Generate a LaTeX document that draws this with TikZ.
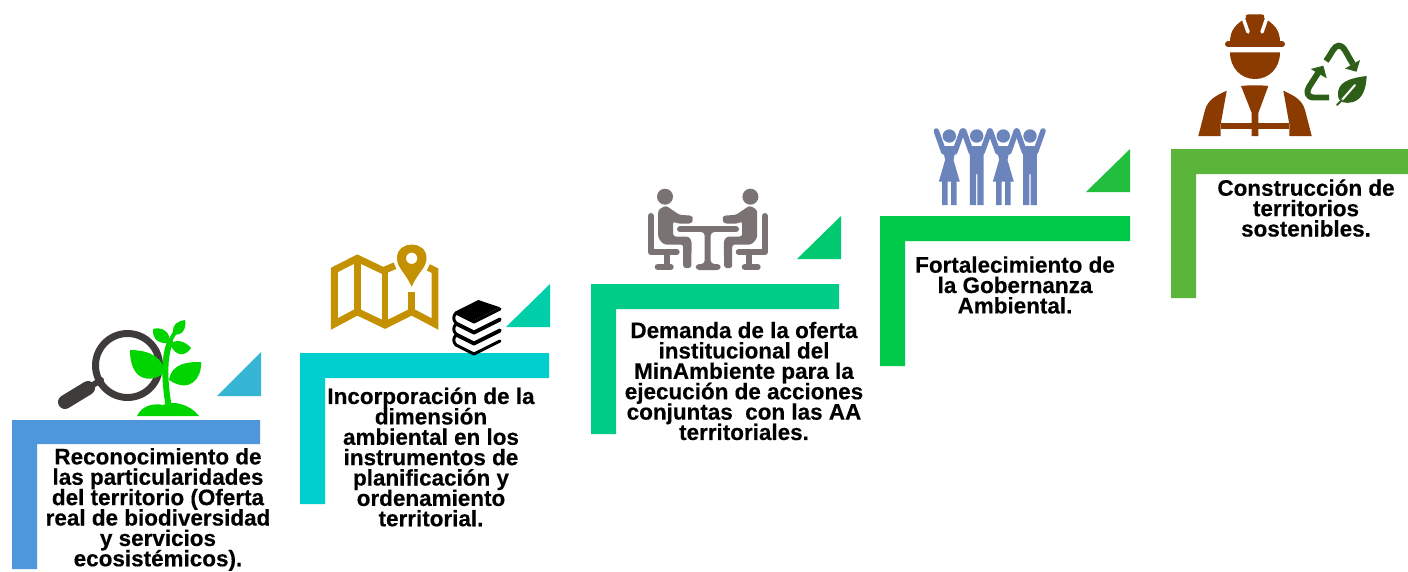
\documentclass[tikz,border=0pt]{standalone}
\usepackage{fontspec}
\setmainfont[BoldFeatures={FakeBold=0.35}]{Liberation Sans}
\lineskiplimit=-5pt
\definecolor{barA}{HTML}{4F97DB}
\definecolor{barB}{HTML}{00CFCF}
\definecolor{barC}{HTML}{00CC88}
\definecolor{barD}{HTML}{00C94A}
\definecolor{barE}{HTML}{5BB53A}
\definecolor{triA}{HTML}{35B4D4}
\definecolor{triB}{HTML}{00CFAA}
\definecolor{triC}{HTML}{00C972}
\definecolor{triD}{HTML}{22BF3E}
\definecolor{lensgray}{HTML}{3F3B3B}
\definecolor{plantgreen}{HTML}{00D500}
\definecolor{mapgold}{HTML}{C49102}
\definecolor{seatgray}{HTML}{7B7373}
\definecolor{crowdblue}{HTML}{6C84BC}
\definecolor{hatbrown}{HTML}{8B3A00}
\definecolor{leafgreen}{HTML}{2D5F18}
\tikzset{
steptext/.style={align=center,inner sep=0pt,font=\bfseries\fontsize{12.78}{11.6}\selectfont},
px/.style={line width=#1*0.567pt},
}
\begin{document}
\begin{tikzpicture}[x=0.02cm,y=-0.02cm,line cap=round,line join=round]
\useasboundingbox[fill=white] (0,0) rectangle (1408,571);
\fill[barA] (12,420)--(260,420)--(260,444)--(37,444)--(37,569)--(12,569)--cycle;
\fill[barB] (300,353)--(549,353)--(549,378)--(325,378)--(325,504)--(300,504)--cycle;
\fill[barC] (591,284)--(839,284)--(839,309)--(616,309)--(616,434)--(591,434)--cycle;
\fill[barD] (880,216)--(1130,216)--(1130,241)--(905,241)--(905,366)--(880,366)--cycle;
\fill[barE] (1171,149)--(1408,149)--(1408,174)--(1196,174)--(1196,298)--(1171,298)--cycle;
\fill[triA] (217,396)--(261,396)--(261,352)--cycle;
\fill[triB] (506,327)--(550,327)--(550,284)--cycle;
\fill[triC] (797,259)--(841,259)--(841,216)--cycle;
\fill[triD] (1086,192)--(1130,192)--(1130,149)--cycle;
\node[steptext] (reconocimiento) at (158,509.5) {Reconocimiento de\\las particularidades\\del territorio (Oferta\\real de biodiversidad\\y servicios\\ecosistémicos).};
\node[steptext] (incorporacion) at (431,457) {Incorporación de la\\dimensión\\ambiental en los\\instrumentos de\\planificación y\\ordenamiento\\territorial.};
\node[steptext] (demanda) at (744,381) {Demanda de la oferta\\institucional del\\MinAmbiente para la\\ejecución de acciones\\conjuntas\ \ con las AA\\territoriales.};
\node[steptext] (fortalecimiento) at (1015,285) {Fortalecimiento de\\la Gobernanza\\Ambiental.};
\node[steptext] (construccion) at (1306,208) {Construcción de\\territorios\\sostenibles.};
\draw[lensgray,px=7] (127.5,365.5) circle [radius=32];
\draw[lensgray,px=14] (65,402)--(88,388);
\draw[lensgray,px=6] (88,388)--(101,380);
\fill[plantgreen] (137,416) .. controls (142,405) and (155,403) .. (163,405) .. controls (172,400) and (190,404) .. (199,416)--cycle;
\draw[plantgreen,px=6] (169,408) .. controls (165,385) and (163,360) .. (170,342);
\draw[plantgreen,px=4] (170,342) .. controls (172,336) and (175,333) .. (178,328);
\fill[plantgreen] (130,350) .. controls (150,350) and (163,358) .. (165,372) .. controls (155,382) and (130,385) .. (130,350)--cycle;
\fill[plantgreen] (201,362) .. controls (202,378) and (190,394) .. (169,380) .. controls (172,362) and (190,362) .. (201,362)--cycle;
\fill[plantgreen] (153,329) .. controls (162,326) and (172,333) .. (169,343) .. controls (160,344) and (152,340) .. (153,329)--cycle;
\fill[plantgreen] (185,320) .. controls (187,328) and (182,337) .. (173,334) .. controls (172,324) and (178,321) .. (185,320)--cycle;
\fill[plantgreen] (191,348) .. controls (186,356) and (176,358) .. (170,344) .. controls (177,338) and (186,342) .. (191,348)--cycle;
\draw[mapgold,px=7,line cap=butt,line join=miter] (395,265.7)--(383.3,270.7)--(357.3,258.3)--(334.3,270)--(334.3,324)--(357.3,311.7)--(385,325)--(411.7,311.7)--(435,324)--(435,270.7)--(428.3,267.3);
\draw[mapgold,px=7,line cap=butt] (357.3,258.3)--(357.3,311.7) (385,270.7)--(385,325) (411.7,291.7)--(411.7,311.7);
\fill[mapgold,even odd rule] (411.7,286.7) .. controls (405,272) and (397,268) .. (397,258) .. controls (397,240) and (426.5,240) .. (426.5,258) .. controls (426.5,268) and (418,272) .. (411.7,286.7)--cycle (411.7,258.3) circle [radius=5.7];
\foreach \booky in {0,11,22}{
\draw[black,px=3] (500,\booky+309)--(474,\booky+322)--(456,\booky+313) (456,\booky+313) .. controls (453,\booky+316) and (453,\booky+320) .. (456,\booky+323)--(474,\booky+332)--(500,\booky+319);
}
\fill[black] (455,311.7)--(478.3,300)--(500,307.3)--(473.3,320.7)--cycle;
\fill[seatgray,rounded corners=2pt] (702,227)--(714,227)--(714,232)--(710.7,232)--(710.7,264)--(720.7,264)--(720.7,270)--(695.7,270)--(695.7,264)--(704.7,264)--(704.7,232)--(702,232)--cycle;
\draw[seatgray,px=6] (680,229.3)--(736,229.3);
\foreach \flip in {1,-1}{
\begin{scope}[shift={(707.7,0)},xscale=\flip]
\fill[seatgray] (-42.7,196.7) circle [radius=8];
\fill[seatgray,rounded corners=1.5pt] (-49.5,210)--(-42,205.5)--(-28,215)--(-16,215.5)--(-14.5,219)--(-16,223.5)--(-31,223.5)--(-34.5,221)--(-34.5,236.5)--(-19,236.5)--(-16,241)--(-16.5,268)--(-24.5,268)--(-24.5,244.5)--(-44,244.5)--(-49.5,238)--cycle;
\draw[seatgray,px=6] (-57,216)--(-57,252)--(-31,252) (-41,252)--(-41,266);
\draw[seatgray,px=6] (-50,267)--(-37,267);
\end{scope}
}
\foreach \crowdx/\skirt in {949.3/1,976.7/0,1003.3/1,1030/0}{
\begin{scope}[shift={(\crowdx,0)}]
\fill[crowdblue] (0,136) circle [radius=6.7];
\draw[crowdblue,px=5.5] (-5.5,152)--(-13,131) (5.5,152)--(13,131);
\ifnum\skirt=1
\fill[crowdblue] (-7,146)--(7,146)--(4.2,160)--(10.5,181.7)--(-10.5,181.7)--(-4.2,160)--cycle;
\fill[crowdblue] (-7.2,181)--(-1.8,181)--(-1.8,205)--(-7.2,205)--cycle (1.8,181)--(7.2,181)--(7.2,205)--(1.8,205)--cycle;
\else
\fill[crowdblue] (-7,146)--(7,146)--(6.8,205)--(0.7,205)--(0.7,174)--(-0.7,174)--(-0.7,205)--(-6.8,205)--cycle;
\fi
\end{scope}
}
\fill[hatbrown] (1230,42) .. controls (1230,30) and (1236,24) .. (1246,18) .. controls (1245,15.5) and (1246,14.5) .. (1248,14.5)--(1262,14.5) .. controls (1264,14.5) and (1265,15.5) .. (1264,18) .. controls (1274,24) and (1280,30) .. (1280,42)--cycle;
\draw[white,px=3.5] (1243.5,19)--(1248,32) (1266.5,19)--(1262,32);
\draw[hatbrown,px=6] (1228,44.3)--(1282,44.3);
\fill[hatbrown] (1230,52.3) .. controls (1230,68) and (1241,79) .. (1255,79) .. controls (1269,79) and (1280,68) .. (1280,52.3)--cycle;
\fill[hatbrown] (1241,86) .. controls (1250,85) and (1260,85) .. (1268.3,86)--(1258.3,113)--(1258.3,136)--(1251.7,136)--(1251.7,113)--cycle;
\fill[hatbrown] (1220.7,122.7)--(1289.3,122.7)--(1289.3,129.3)--(1220.7,129.3)--cycle;
\fill[hatbrown] (1226.7,90.7) .. controls (1215,96) and (1208,100) .. (1205,110)--(1198.3,136)--(1220.7,136)--(1220.7,124)--cycle;
\fill[hatbrown] (1283.3,90.7) .. controls (1295,96) and (1302,100) .. (1305,110)--(1311.7,136)--(1289.3,136)--(1289.3,124)--cycle;
\draw[leafgreen,px=6,line cap=butt] (1326,61) .. controls (1332,53) and (1334,45.5) .. (1339,45.5) .. controls (1344,45.5) and (1347,55) .. (1353,64);
\fill[leafgreen] (1360,60)--(1356.5,71.7)--(1345,68.5)--cycle;
\draw[leafgreen,px=6,line cap=butt] (1329,97.5)--(1314,97.5) .. controls (1307,97.5) and (1306,92) .. (1309,87)--(1318,73);
\fill[leafgreen] (1310.7,69)--(1323.3,65.7)--(1326.7,78.3)--cycle;
\fill[leafgreen] (1366.7,76) .. controls (1350,78) and (1337,82) .. (1338,95) .. controls (1338,103) and (1346,104) .. (1353,102) .. controls (1363,99) and (1366,88) .. (1366.7,76)--cycle;
\draw[white,px=2] (1341,101)--(1355,85);
\draw[leafgreen,px=2] (1337,105)--(1342,100);
\end{tikzpicture}
\end{document}
